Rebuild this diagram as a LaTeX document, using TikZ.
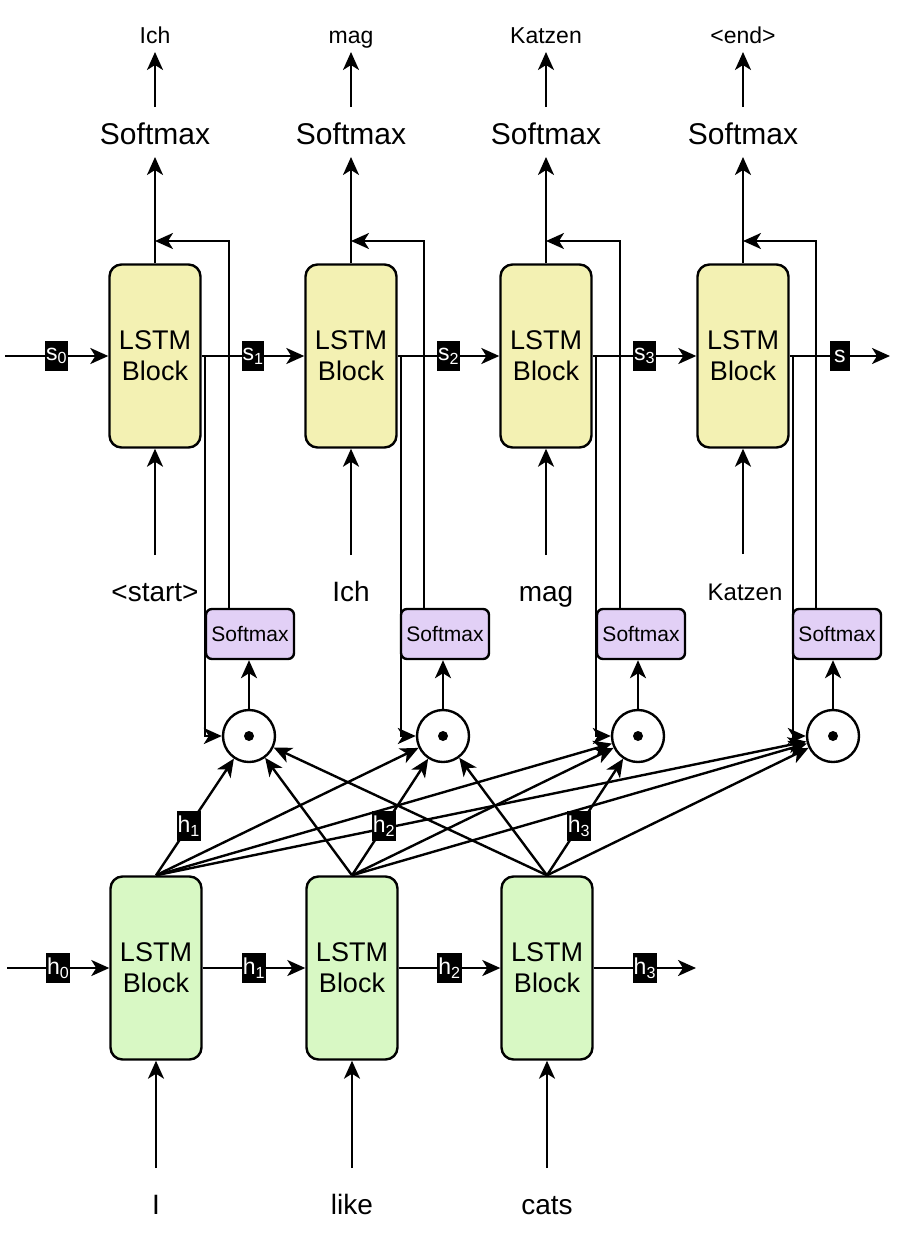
\documentclass[tikz,border=0pt]{standalone}
\usepackage{fontspec}
\setmainfont{Liberation Sans}
\usetikzlibrary{arrows.meta,calc}
\definecolor{decfill}{HTML}{F3F1B3}
\definecolor{encfill}{HTML}{D8F8C4}
\definecolor{smxfill}{HTML}{E2D0F6}
\newcommand{\fsz}[2]{\fontsize{#1}{#2}\selectfont}
\begin{document}
\begin{tikzpicture}[x=1pt,y=-1pt,
  arr/.style={line width=2.4pt,-{Stealth[length=18pt,width=16pt,inset=5pt]}},
  lstmdec/.style={draw,line width=2.4pt,rounded corners=12pt,fill=decfill,minimum width=91pt,minimum height=183pt,inner sep=0pt,align=center,font=\fsz{27}{31}},
  lstmenc/.style={lstmdec,fill=encfill},
  smbox/.style={draw,line width=2.4pt,rounded corners=6pt,fill=smxfill,minimum width=88pt,minimum height=50pt,inner sep=0pt,font=\fsz{21}{21}},
  dotc/.style={draw,circle,line width=2.4pt,minimum size=52pt,inner sep=0pt},
  bigtxt/.style={inner sep=0pt,anchor=base,font=\fsz{30}{30}},
  wordtxt/.style={inner sep=0pt,anchor=base,font=\fsz{28}{28}},
  toptxt/.style={inner sep=0pt,anchor=base,font=\fsz{23}{23}},
  lab/.style={fill=black,text=white,inner sep=1pt,minimum height=30pt,minimum width=20pt,font=\fsz{23}{23}}
]
\useasboundingbox (0,0) rectangle (902,1234);

% decoder blocks
\node[lstmdec] (d1) at (155,356) {LSTM\\Block};
\node[lstmdec] (d2) at (351,356) {LSTM\\Block};
\node[lstmdec] (d3) at (546,356) {LSTM\\Block};
\node[lstmdec] (d4) at (743,356) {LSTM\\Block};

% encoder blocks
\node[lstmenc] (e1) at (156,968) {LSTM\\Block};
\node[lstmenc] (e2) at (352,968) {LSTM\\Block};
\node[lstmenc] (e3) at (547,968) {LSTM\\Block};

% top softmax and outputs
\node[bigtxt] (so1) at (155,144) {Softmax};
\node[bigtxt] (so2) at (351,144) {Softmax};
\node[bigtxt] (so3) at (546,144) {Softmax};
\node[bigtxt] (so4) at (743,144) {Softmax};
\node[toptxt] (out1) at (155,43) {Ich};
\node[toptxt] (out2) at (351,43) {mag};
\node[toptxt] (out3) at (546,43) {Katzen};
\node[toptxt] (out4) at (743,43) {<end>};

% decoder inputs
\node[wordtxt] (din1) at (155,601) {<start>};
\node[wordtxt] (din2) at (351,601) {Ich};
\node[wordtxt] (din3) at (546,601) {mag};
\node[wordtxt,font=\fsz{24}{24}] (din4) at (745,600) {Katzen};

% encoder inputs
\node[wordtxt] (ein1) at (156,1214) {I};
\node[wordtxt] (ein2) at (352,1214) {like};
\node[wordtxt] (ein3) at (547,1214) {cats};

% attention circles and small softmax
\node[dotc] (c1) at (249,736) {};
\node[dotc] (c2) at (443,736) {};
\node[dotc] (c3) at (638,736) {};
\node[dotc] (c4) at (833,736) {};
\foreach \i in {1,...,4} {\fill (c\i) circle[radius=5pt];}
\node[smbox] (ss1) at (250,634) {Softmax};
\node[smbox] (ss2) at (445,634) {Softmax};
\node[smbox] (ss3) at (641,634) {Softmax};
\node[smbox] (ss4) at (837,634) {Softmax};

% coordinates
\coordinate (sin) at (5,356);
\coordinate (send) at (890,356);
\coordinate (hin) at (7,968);
\coordinate (hend) at (696,968);
\coordinate (fb1) at (155,241);
\coordinate (fb2) at (351,241);
\coordinate (fb3) at (546,241);
\coordinate (fb4) at (743,241);

% decoder state chain
\draw[arr] (sin) -- node[lab]{s\textsubscript{0}} (d1.west);
\draw[arr] (d1.east) -- node[lab]{s\textsubscript{1}} (d2.west);
\draw[arr] (d2.east) -- node[lab]{s\textsubscript{2}} (d3.west);
\draw[arr] (d3.east) -- node[lab]{s\textsubscript{3}} (d4.west);
\draw[arr] (d4.east) -- node[lab]{s} (send);

% encoder state chain
\draw[arr] (hin) -- node[lab]{h\textsubscript{0}} (e1.west);
\draw[arr] (e1.east) -- node[lab]{h\textsubscript{1}} (e2.west);
\draw[arr] (e2.east) -- node[lab]{h\textsubscript{2}} (e3.west);
\draw[arr] (e3.east) -- node[lab]{h\textsubscript{3}} (hend);

% block -> softmax -> word
\foreach \i in {1,...,4} {
  \draw[arr] (d\i.north) -- ($(d\i.north |- so\i.base)+(0,13)$);
  \draw[arr] ($(d\i.north |- so\i.base)+(0,-37)$) -- ($(d\i.north |- out\i.base)+(0,9)$);
  \draw[arr] ($(d\i.south |- din\i.base)+(0,-46)$) -- (d\i.south);
  % branch of decoder state to attention
  \draw[arr] ($(d\i.east)+(3,0)$) |- (c\i.west);
  % attention -> small softmax
  \draw[arr] (c\i.north) -- (c\i.north |- ss\i.south);
  % feedback to decoder output
  \draw[arr] ([xshift=24pt]ss\i.north west) |- (fb\i);
}
\foreach \i in {1,...,3} {
  \draw[arr] ($(e\i.south |- ein\i.base)+(0,-46)$) -- (e\i.south);
}

% encoder -> attention
\draw[arr] (e1.north) -- node[lab,pos=0.42]{h\textsubscript{1}} (c1);
\draw[arr] (e1.north) -- (c2);
\draw[arr] (e1.north) -- (c3);
\draw[arr] (e1.north) -- (c4);
\draw[arr] (e2.north) -- (c1);
\draw[arr] (e2.north) -- node[lab,pos=0.42]{h\textsubscript{2}} (c2);
\draw[arr] (e2.north) -- (c3);
\draw[arr] (e2.north) -- (c4);
\draw[arr] (e3.north) -- (c1);
\draw[arr] (e3.north) -- (c2);
\draw[arr] (e3.north) -- node[lab,pos=0.42]{h\textsubscript{3}} (c3);
\draw[arr] (e3.north) -- (c4);
\end{tikzpicture}
\end{document}
